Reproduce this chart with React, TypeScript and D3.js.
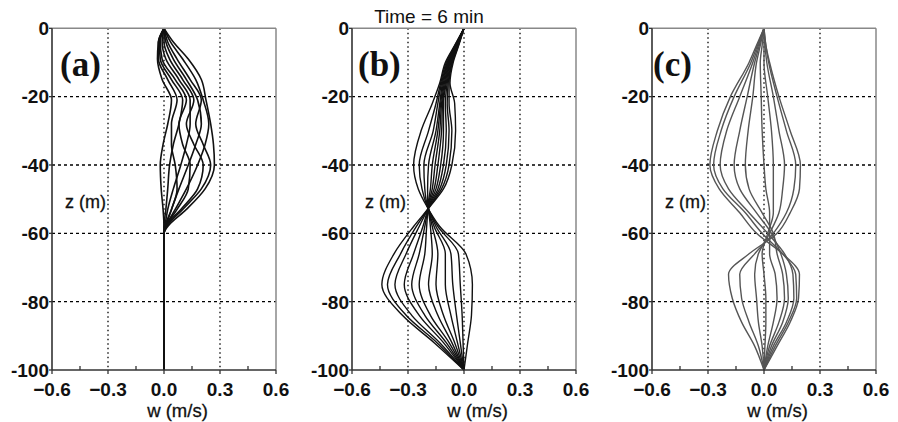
import React from "react";
import * as d3 from "d3";

// axis ticks
const W_TICKS = [-0.6, -0.3, 0.0, 0.3, 0.6];
const W_MINOR = [-0.45, -0.15, 0.15, 0.45];
const W_GRID = [-0.3, 0.0, 0.3];
const Z_TICKS = [0, -20, -40, -60, -80, -100];
const Z_GRID = [-20, -40, -60, -80];

// panel (a): depth levels and w profiles (m/s)
const Z_A = [0, -4, -9, -15, -21, -28, -34, -40, -47, -53, -58, -60, -100];
const PROFILES_A = [
  [0, 0.05, 0.13, 0.2, 0.225, 0.25, 0.265, 0.27, 0.22, 0.12, 0.02, 0, 0],
  [0, 0.035, 0.1, 0.17, 0.21, 0.24, 0.22, 0.18, 0.12, 0.06, 0.01, 0, 0],
  [0, 0.02, 0.07, 0.14, 0.2, 0.17, 0.21, 0.25, 0.2, 0.1, 0.015, 0, 0],
  [0, 0.01, 0.05, 0.12, 0.18, 0.2, 0.17, 0.13, 0.08, 0.04, 0.01, 0, 0],
  [0, 0.0, 0.03, 0.1, 0.16, 0.12, 0.16, 0.21, 0.18, 0.09, 0.01, 0, 0],
  [0, -0.01, 0.01, 0.08, 0.14, 0.14, 0.12, 0.09, 0.05, 0.02, 0.005, 0, 0],
  [0, -0.02, -0.01, 0.06, 0.12, 0.08, 0.1, 0.14, 0.13, 0.07, 0.01, 0, 0],
  [0, -0.025, -0.02, 0.04, 0.1, 0.08, 0.05, 0.03, 0.02, 0.01, 0, 0, 0],
  [0, -0.03, -0.03, 0.02, 0.07, 0.04, 0.04, 0.06, 0.07, 0.04, 0.005, 0, 0],
  [0, -0.03, -0.035, -0.01, 0.04, 0.02, -0.005, -0.02, -0.015, -0.005, 0, 0, 0],
];

// panel (b)
const Z_B = [0, -5, -10, -16, -22, -30, -40, -47, -52, -58, -66, -75, -84, -92, -100];
const PROFILES_B = [
  [0, -0.05, -0.1, -0.13, -0.17, -0.23, -0.27, -0.245, -0.2, -0.13, 0.01, 0.045, 0.04, 0.02, 0],
  [0, -0.048, -0.095, -0.125, -0.15, -0.19, -0.24, -0.225, -0.198, -0.14, -0.03, -0.02, -0.01, -0.005, 0],
  [0, -0.046, -0.09, -0.12, -0.14, -0.165, -0.215, -0.21, -0.196, -0.15, -0.07, -0.06, -0.04, -0.02, 0],
  [0, -0.044, -0.087, -0.115, -0.13, -0.15, -0.19, -0.195, -0.194, -0.16, -0.1, -0.1, -0.07, -0.035, 0],
  [0, -0.042, -0.084, -0.11, -0.125, -0.14, -0.17, -0.18, -0.192, -0.17, -0.14, -0.15, -0.11, -0.05, 0],
  [0, -0.04, -0.08, -0.105, -0.12, -0.13, -0.155, -0.17, -0.19, -0.18, -0.17, -0.19, -0.14, -0.065, 0],
  [0, -0.038, -0.077, -0.1, -0.115, -0.12, -0.14, -0.16, -0.19, -0.2, -0.21, -0.24, -0.18, -0.08, 0],
  [0, -0.036, -0.074, -0.095, -0.11, -0.11, -0.125, -0.15, -0.188, -0.21, -0.24, -0.28, -0.21, -0.095, 0],
  [0, -0.034, -0.07, -0.09, -0.1, -0.095, -0.11, -0.14, -0.186, -0.22, -0.27, -0.32, -0.24, -0.11, 0],
  [0, -0.032, -0.066, -0.085, -0.09, -0.08, -0.095, -0.13, -0.184, -0.24, -0.31, -0.37, -0.28, -0.13, 0],
  [0, -0.03, -0.062, -0.08, -0.08, -0.065, -0.08, -0.12, -0.182, -0.255, -0.34, -0.41, -0.31, -0.145, 0],
  [0, -0.028, -0.058, -0.075, -0.05, -0.045, -0.065, -0.11, -0.18, -0.27, -0.375, -0.44, -0.33, -0.16, 0],
];

// panel (c)
const Z_C = [0, -5, -10, -20, -30, -40, -47, -54, -60, -66, -72, -79, -86, -93, -100];
const PROFILES_C = [
  [0, -0.04, -0.08, -0.18, -0.25, -0.29, -0.24, -0.13, -0.04, 0.1, 0.19, 0.185, 0.14, 0.07, 0],
  [0, -0.035, -0.07, -0.16, -0.23, -0.27, -0.22, -0.1, -0.01, 0.1, 0.17, 0.175, 0.13, 0.06, 0],
  [0, -0.03, -0.06, -0.13, -0.2, -0.235, -0.19, -0.08, 0.02, 0.11, 0.155, 0.16, 0.12, 0.05, 0],
  [0, -0.025, -0.05, -0.09, -0.13, -0.16, -0.13, -0.04, 0.04, 0.09, 0.12, 0.13, 0.1, 0.04, 0],
  [0, -0.02, -0.04, -0.06, -0.085, -0.1, -0.08, -0.01, 0.05, 0.07, 0.1, 0.11, 0.08, 0.03, 0],
  [0, -0.01, -0.02, -0.015, -0.01, 0.0, 0.01, 0.03, 0.03, 0.03, 0.06, 0.07, 0.05, 0.02, 0],
  [0, 0.0, 0.0, 0.02, 0.04, 0.05, 0.05, 0.05, 0.02, -0.01, 0.0, 0.01, 0.01, 0.005, 0],
  [0, 0.005, 0.015, 0.05, 0.08, 0.11, 0.1, 0.08, 0.03, -0.03, -0.05, -0.04, -0.03, -0.01, 0],
  [0, 0.01, 0.025, 0.07, 0.12, 0.17, 0.16, 0.12, 0.05, -0.05, -0.13, -0.12, -0.08, -0.03, 0],
  [0, 0.01, 0.03, 0.08, 0.14, 0.195, 0.19, 0.14, 0.07, -0.08, -0.19, -0.17, -0.12, -0.05, 0],
];

const PANELS = [
  { label: "(a)", left: 52, labelX: 8, z: Z_A, profiles: PROFILES_A, color: "#111", sw: 1.6 },
  { label: "(b)", left: 352, labelX: 6, z: Z_B, profiles: PROFILES_B, color: "#111", sw: 1.4 },
  { label: "(c)", left: 652, labelX: 1, z: Z_C, profiles: PROFILES_C, color: "#555", sw: 1.4 },
];

const TOP = 28.3;
const BOTTOM = 370;
const PW = 224;
const SANS = "'Liberation Sans', Arial, sans-serif";
const fmt = d3.format(".1f");

function Panel({ p }: { p: (typeof PANELS)[number] }) {
  const x = d3.scaleLinear().domain([-0.6, 0.6]).range([p.left, p.left + PW]);
  const y = d3.scaleLinear().domain([0, -100]).range([TOP, BOTTOM]);
  // profiles are single-valued in depth, so interpolate w as a function of z
  const line = d3
    .line<[number, number]>()
    .x((d) => x(d[0]))
    .y((d) => y(d[1]))
    .curve(d3.curveMonotoneY);
  const r = p.left + PW;

  return (
    <g>
      {/* grid */}
      {W_GRID.map((w) => (
        <line key={"gx" + w} x1={x(w)} x2={x(w)} y1={TOP} y2={BOTTOM}
          stroke="#000" strokeWidth={1.3} strokeDasharray="1.5,3" />
      ))}
      {Z_GRID.map((z) => (
        <line key={"gz" + z} x1={p.left} x2={r} y1={y(z)} y2={y(z)}
          stroke="#000" strokeWidth={1.3} strokeDasharray="3,3" />
      ))}
      {/* profiles */}
      {p.profiles.map((ws, i) => (
        <path key={i} d={line(ws.map((w, j) => [w, p.z[j]]) as [number, number][]) || ""}
          fill="none" stroke={p.color} strokeWidth={p.sw} />
      ))}
      {/* frame */}
      <line x1={p.left} x2={r} y1={TOP} y2={TOP} stroke="#888" strokeWidth={1.5} />
      <line x1={r} x2={r} y1={TOP} y2={BOTTOM} stroke="#888" strokeWidth={1.5} />
      <line x1={p.left} x2={p.left} y1={TOP} y2={BOTTOM} stroke="#333" strokeWidth={1.6} />
      <line x1={p.left} x2={r} y1={BOTTOM} y2={BOTTOM} stroke="#333" strokeWidth={1.6} />
      {/* y ticks */}
      {Z_TICKS.map((z) => (
        <g key={"yt" + z}>
          <line x1={p.left - 3} x2={p.left} y1={y(z)} y2={y(z)} stroke="#333" strokeWidth={1.3} />
          <text x={p.left - 3} y={y(z)} dy="0.36em" textAnchor="end"
            fontFamily={SANS} fontWeight="bold" fontSize={19} fill="#111">{z}</text>
        </g>
      ))}
      {/* x ticks */}
      {W_TICKS.map((w) => (
        <g key={"xt" + w}>
          <line x1={x(w)} x2={x(w)} y1={BOTTOM} y2={BOTTOM + 4} stroke="#333" strokeWidth={1.3} />
          <text x={x(w)} y={395.5} textAnchor="middle"
            fontFamily={SANS} fontWeight="bold" fontSize={19} fill="#111">{fmt(w)}</text>
        </g>
      ))}
      {W_MINOR.map((w) => (
        <line key={"xm" + w} x1={x(w)} x2={x(w)} y1={BOTTOM} y2={BOTTOM - 4} stroke="#333" strokeWidth={1.3} />
      ))}
      <text x={p.left + PW / 2 + 13.5} y={416.5} textAnchor="middle"
        fontFamily={SANS} fontSize={18.5} fill="#111" stroke="#111" strokeWidth={0.3}>w (m/s)</text>
      <text x={p.left + 13} y={208} fontFamily={SANS} fontSize={18} fill="#111"
        stroke="#111" strokeWidth={0.3}>z (m)</text>
      <text x={p.left + p.labelX} y={76} fontFamily="'Liberation Serif', 'Times New Roman', serif"
        fontWeight="bold" fontSize={35} fill="#111">{p.label}</text>
    </g>
  );
}

export default function App() {
  return (
    <svg width={898} height={422} style={{ position: "absolute", left: 0, top: 0, background: "#fff" }}>
      {PANELS.map((p) => (
        <Panel key={p.label} p={p} />
      ))}
      <text x={429} y={23} textAnchor="middle" fontFamily={SANS} fontSize={19} fill="#111">
        Time = 6 min
      </text>
    </svg>
  );
}
